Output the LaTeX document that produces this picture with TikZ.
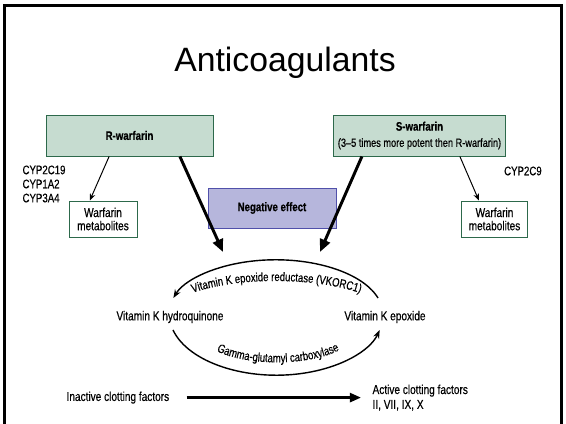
\documentclass[tikz,border=0pt]{standalone}
\usepackage{fontspec}
\setmainfont{Liberation Sans}
\newfontfamily\narrowfont[FakeStretch=0.78,FakeBold=0.5]{Liberation Sans}
\usetikzlibrary{arrows.meta,positioning,decorations.text}
\definecolor{drugfill}{RGB}{198,220,208}
\definecolor{drugline}{RGB}{45,105,75}
\definecolor{negfill}{RGB}{182,182,220}
\definecolor{negline}{RGB}{80,80,170}
\newcommand\arcfont{\narrowfont\fontsize{8.7}{9}\selectfont}

\begin{document}
\begin{tikzpicture}[
    font=\narrowfont\fontsize{9.2}{10}\selectfont,
    drug/.style={draw=drugline, fill=drugfill, line width=0.7pt, minimum width=4.175cm, minimum height=1.025cm, align=center, font=\narrowfont\fontsize{8.8}{10}\selectfont},
    metab/.style={draw=drugline, line width=0.7pt, minimum width=1.7cm, minimum height=0.9cm, inner sep=1pt, align=center, font=\narrowfont\fontsize{9.2}{9.4}\selectfont},
    neg/.style={draw=negline, fill=negfill, line width=0.7pt, minimum width=3.2cm, minimum height=1cm, font=\narrowfont\fontsize{8.8}{10}\selectfont},
    thin/.style={-{Stealth[length=5pt,width=4pt]}, line width=0.7pt},
    thick/.style={-{Triangle[length=9pt,width=7.5pt]}, line width=2.1pt},
    cyc/.style={-{Stealth[length=6pt,width=4.5pt]}, line width=1pt},
    flow/.style={-{Triangle[length=8pt,width=6.5pt]}, line width=1.8pt}
]
\useasboundingbox (0,0) rectangle (14.15,10.6);
% slide frame
\draw[line width=2.2pt] (0.105,0) -- (0.105,10.455) -- (14.04,10.455) -- (14.04,0);
\node[font=\fontsize{24}{28}\selectfont, anchor=base] (title) at (7.125,8.8) {Anticoagulants};

% R-warfarin (left side)
\node[drug] (rw) at (3.2375,7.2125) {\textbf{R-warfarin}};
\node[anchor=west, align=left, font=\narrowfont\fontsize{8.8}{10}\selectfont] (cypl) at (0.44,6.0) {CYP2C19\\CYP1A2\\CYP3A4};
\node[metab] (lm) at (2.575,5.125) {Warfarin\\metabolites};

% S-warfarin (right side)
\node[drug] (sw) at (10.4875,7.2125) {\textbf{S-warfarin}\\[1.5pt]{\fontsize{8.4}{10}\selectfont (3–5 times more potent then R-warfarin)}};
\node[anchor=west, font=\narrowfont\fontsize{8.8}{10}\selectfont] (cypr) at (12.48,6.325) {CYP2C9};
\node[metab, minimum width=1.65cm] (rm) at (12.3625,5.125) {Warfarin\\metabolites};

\node[neg] (ne) at (6.8,5.4) {\textbf{Negative effect}};
\coordinate (tl) at (5.575,4.3);
\coordinate (tr) at (8.0,4.3);

\draw[thin] ([xshift=-0.51cm]rw.south) -- ([xshift=-0.33cm]lm.north);
\draw[thin] ([xshift=1.01cm]sw.south) -- ([xshift=-0.39cm]rm.north);
\draw[thick] ([xshift=1.26cm]rw.south) -- (tl);
\draw[thick] ([xshift=-1.44cm]sw.south) -- (tr);

% vitamin K cycle
\node (hq) at (4.25,2.675) {Vitamin K hydroquinone};
\node (ep) at (9.625,2.675) {Vitamin K epoxide};
\draw[cyc] ([shift={(-0.175,0.475)}]ep.center) arc[start angle=17, end angle=163, x radius=2.675cm, y radius=1.35cm];
\draw[cyc] ([shift={(0.075,-0.325)}]hq.center) arc[start angle=195, end angle=345, x radius=2.675cm, y radius=1.525cm];
\path[decorate, decoration={text along path, text align=center,
    text={|\arcfont|Vitamin K epoxide reductase (VKORC1)}}]
    (4.625,3.2) .. controls (5.75,3.7) and (8.0,3.7) .. (9.2,3.2);
\path[decorate, decoration={text along path, text align=center,
    text={|\arcfont|Gamma-glutamyl carboxylase}}]
    (5.2,1.95) .. controls (5.95,1.4) and (7.925,1.4) .. (8.7,1.975);

% clotting factors
\node[anchor=west] (inact) at (1.54,0.66) {Inactive clotting factors};
\node[anchor=west, align=left, font=\narrowfont\fontsize{9.2}{10.6}\selectfont] (act) at (9.19,0.66) {Active clotting factors\\II, VII, IX, X};
\draw[flow, shorten <=0.31cm, shorten >=0.165cm] (inact.east) -- (act.west);
\end{tikzpicture}
\end{document}
